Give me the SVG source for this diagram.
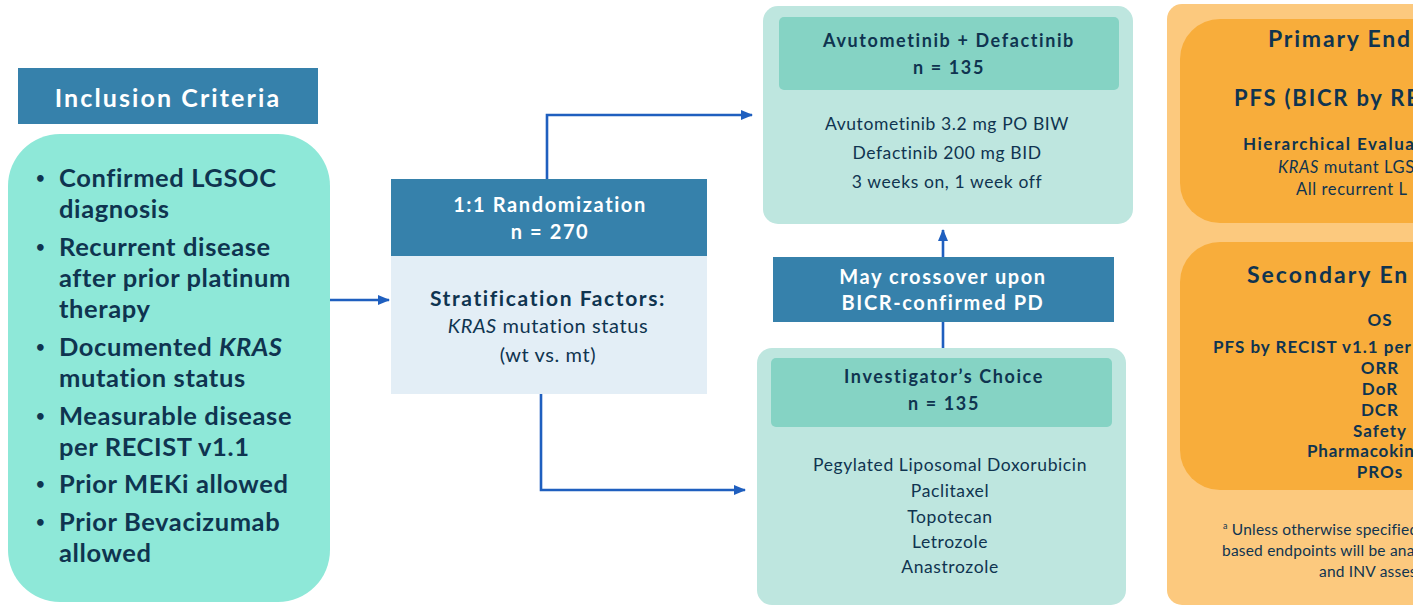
<svg xmlns="http://www.w3.org/2000/svg" width="1422" height="607" viewBox="0 0 1422 607">
<style>
text{font-family:Lato,"Open Sans","Liberation Sans",sans-serif;fill:#0f3450;letter-spacing:0.6px}
.b{font-weight:700;letter-spacing:1.6px}
.w{fill:#ffffff}
.hdr{fill:#3681ab}
.c{text-anchor:middle}
.crit{font-size:25.5px;font-weight:700;letter-spacing:2px}
.dot{font-size:15px;font-weight:700}
.conn{fill:none;stroke:#1f5fbf;stroke-width:2.6}
</style>
<defs>
<marker id="ah" viewBox="0 0 12 10" refX="11" refY="5" markerWidth="12" markerHeight="10" markerUnits="userSpaceOnUse" orient="auto">
<path d="M0,0 L12,5 L0,10 Z" fill="#1f5fbf"/>
</marker>
<clipPath id="clipR"><rect x="0" y="0" width="1413" height="607"/></clipPath>
</defs>
<rect width="1422" height="607" fill="#ffffff"/>

<g id="connectors">
<path class="conn" d="M330,300 L389,300" marker-end="url(#ah)"/>
<path class="conn" d="M547,179 L547,115 L752,115" marker-end="url(#ah)"/>
<path class="conn" d="M541,394 L541,490 L745,490" marker-end="url(#ah)"/>
<path class="conn" d="M943,257 L943,230" marker-end="url(#ah)"/>
<path class="conn" d="M943,322 L943,348"/>
</g>

<g id="inclusion-header">
<rect x="18" y="68" width="300" height="56" class="hdr"/>
<text x="168" y="107" class="b w c" font-size="25" style="letter-spacing:2.1px">Inclusion Criteria</text>
</g>

<g id="inclusion-criteria">
<rect x="8" y="134" width="322" height="468" rx="52" fill="#8ee8d8"/>
<g class="crit">
<text x="36" y="183" class="dot">•</text><text x="59" y="187">Confirmed LGSOC</text>
<text x="59" y="218">diagnosis</text>
<text x="36" y="252" class="dot">•</text><text x="59" y="256">Recurrent disease</text>
<text x="59" y="287">after prior platinum</text>
<text x="59" y="318">therapy</text>
<text x="36" y="352" class="dot">•</text><text x="59" y="356">Documented <tspan font-style="italic">KRAS</tspan></text>
<text x="59" y="387">mutation status</text>
<text x="36" y="421" class="dot">•</text><text x="59" y="425">Measurable disease</text>
<text x="59" y="456">per RECIST v1.1</text>
<text x="36" y="489" class="dot">•</text><text x="59" y="493">Prior MEKi allowed</text>
<text x="36" y="527" class="dot">•</text><text x="59" y="531">Prior Bevacizumab</text>
<text x="59" y="562">allowed</text>
</g>
</g>

<g id="randomization">
<rect x="391" y="179" width="316" height="77" class="hdr"/>
<rect x="391" y="256" width="316" height="138" fill="#e3eef6"/>
<text x="550" y="212" class="b w c" font-size="20">1:1 Randomization</text>
<text x="550" y="239" class="b w c" font-size="20">n = 270</text>
<text x="548" y="306" class="b c" font-size="21" style="letter-spacing:1.6px">Stratification Factors:</text>
<text x="548" y="333" class="c" font-size="20"><tspan font-style="italic">KRAS</tspan> mutation status</text>
<text x="548" y="362" class="c" font-size="20">(wt vs. mt)</text>
</g>

<g id="arm-avutometinib">
<rect x="763" y="6" width="370" height="218" rx="15" fill="#bee6df"/>
<rect x="779" y="17" width="340" height="73" rx="5" fill="#85d3c4"/>
<text x="949" y="47" class="b c" font-size="18">Avutometinib + Defactinib</text>
<text x="949" y="74" class="b c" font-size="18">n = 135</text>
<text x="947" y="130" class="c" font-size="17.5">Avutometinib 3.2 mg PO BIW</text>
<text x="947" y="159" class="c" font-size="17.5">Defactinib 200 mg BID</text>
<text x="947" y="188" class="c" font-size="17.5">3 weeks on, 1 week off</text>
</g>

<g id="crossover">
<rect x="773" y="257" width="341" height="65" class="hdr"/>
<text x="943" y="284" class="b w c" font-size="20">May crossover upon</text>
<text x="943" y="310" class="b w c" font-size="20">BICR-confirmed PD</text>
</g>

<g id="arm-investigator">
<rect x="757" y="348" width="369" height="257" rx="15" fill="#bee6df"/>
<rect x="771" y="358" width="341" height="69" rx="5" fill="#85d3c4"/>
<text x="944" y="383" class="b c" font-size="18">Investigator’s Choice</text>
<text x="944" y="410" class="b c" font-size="18">n = 135</text>
<text x="950" y="471" class="c" font-size="17.5">Pegylated Liposomal Doxorubicin</text>
<text x="950" y="497" class="c" font-size="17.5">Paclitaxel</text>
<text x="950" y="523" class="c" font-size="17.5">Topotecan</text>
<text x="950" y="548" class="c" font-size="17.5">Letrozole</text>
<text x="950" y="573" class="c" font-size="17.5">Anastrozole</text>
</g>

<g id="endpoints" clip-path="url(#clipR)">
<rect x="1167" y="4" width="300" height="601" rx="15" fill="#fcc97e"/>
<g id="primary-endpoint">
<rect x="1180" y="19" width="300" height="204" rx="40" fill="#f8ad3b"/>
<text x="1268" y="47" class="b" font-size="23" style="letter-spacing:1.8px">Primary End</text>
<text x="1234" y="106" class="b" font-size="22" style="letter-spacing:1.8px">PFS (BICR by RE</text>
<text x="1243" y="150" class="b" font-size="17" style="letter-spacing:1.5px">Hierarchical Evalua</text>
<text x="1278" y="173" font-size="16.5"><tspan font-style="italic">KRAS</tspan> mutant LGS</text>
<text x="1296" y="195" font-size="16.5">All recurrent L</text>
</g>
<g id="secondary-endpoints">
<rect x="1180" y="242" width="300" height="248" rx="40" fill="#f8ad3b"/>
<text x="1247" y="283" class="b" font-size="23" style="letter-spacing:2px">Secondary En</text>
<text x="1380" y="326" class="b c" font-size="17" style="letter-spacing:1px">OS</text>
<text x="1213" y="353" class="b" font-size="17" style="letter-spacing:1px">PFS by RECIST v1.1 per</text>
<text x="1380" y="374" class="b c" font-size="17" style="letter-spacing:1px">ORR</text>
<text x="1380" y="395" class="b c" font-size="17" style="letter-spacing:1px">DoR</text>
<text x="1380" y="416" class="b c" font-size="17" style="letter-spacing:1px">DCR</text>
<text x="1380" y="437" class="b c" font-size="17" style="letter-spacing:1px">Safety</text>
<text x="1307" y="457" class="b" font-size="17" style="letter-spacing:0.8px">Pharmacokin</text>
<text x="1380" y="478" class="b c" font-size="17" style="letter-spacing:1px">PROs</text>
</g>
<text x="1223" y="535" font-size="15.5" style="letter-spacing:0.2px"><tspan font-size="9" dy="-6">a</tspan><tspan dy="6"> Unless otherwise specified</tspan></text>
<text x="1222" y="556" font-size="15.5" style="letter-spacing:0.2px">based endpoints will be anal</text>
<text x="1319" y="577" font-size="15.5" style="letter-spacing:0.2px">and INV asses</text>
</g>
</svg>
